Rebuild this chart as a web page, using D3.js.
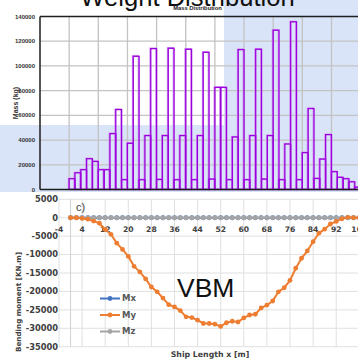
<!DOCTYPE html>
<html><head><meta charset="utf-8">
<script src="https://cdn.jsdelivr.net/npm/d3@7"></script>
<style>body{margin:0;background:#fff}svg{display:block}</style>
</head><body>
<svg id="c" width="358" height="359"></svg>
<script>
// ---- Top chart data (Mass Distribution) ----
const massTicks = [0, 20000, 40000, 60000, 80000, 100000, 120000, 140000];
const massValues = [8700, 13500, 16000, 24900, 22700, 16000, 16000, 45200, 64700, 7900,
  37400, 107800, 7900, 43600, 114000, 8100, 43600, 114300, 7900, 43600,
  113500, 7900, 43600, 111000, 8400, 82600, 82600, 7900, 42500, 113200,
  7900, 43600, 113500, 8400, 43600, 128900, 7900, 36800, 135700, 7900,
  29800, 65500, 8900, 24600, 44400, 14400, 9800, 8700, 6200, 1900];
const massFirstSlot = 5;
const massSlotCount = 55;

// ---- Bottom chart data (Bending moment) ----
const lengthStations = [0,2,4,6,8,10,12,14,16,18,20,22,24,26,28,30,32,34,36,38,40,42,44,46,48,50,
  52,54,56,58,60,62,64,66,68,70,72,74,76,78,80,82,84,86,88,90,92,94,96,98,100];
const myValues = [0,0,-200,-400,-900,-1500,-3200,-4500,-6900,-8600,-10500,-13200,-14700,-16600,-18800,-20100,
  -21800,-23600,-24200,-25200,-26900,-27100,-27800,-28700,-28700,-28900,-29500,-28500,-28100,-28300,
  -27200,-26400,-26200,-24500,-23700,-22600,-20100,-19000,-17000,-13700,-11000,-9000,-6500,-4200,
  -3100,-1700,-1000,-300,100,0,0];
const mxValues = [0,0,0,0,0,0,0,0,0,0,0,0,0,0,0,0,0,0,0,0,0,0,0,0,0,0,0,0,0,0,0,0,0,0,0,0,0,0,0,0,0,0,0,0,0,0,0,0,0,0,0];
const mzValues = [0,0,0,0,0,0,0,0,0,0,0,0,0,0,0,0,0,0,0,0,0,0,0,0,0,0,0,0,0,0,0,0,0,0,0,0,0,0,0,0,0,0,0,0,0,0,0,0,0,0,0];
const momentTicks = [5000, 0, -5000, -10000, -15000, -20000, -25000, -30000, -35000];
const lengthTicks = [-4, 4, 12, 20, 28, 36, 44, 52, 60, 68, 76, 84, 92, 100];
const seriesNames = ["Mx", "My", "Mz"];
const seriesColors = ["#4472C4", "#ED7D31", "#A5A5A5"];

const svg = d3.select("#c");

// ---------- TOP CHART ----------
const topG = svg.append("g");
topG.append("path")
  .attr("d", "M224,0 L358,0 L358,192 L0,192 L0,125 L224,125 Z")
  .attr("fill", "#d9e4f8");

const xT = d3.scaleLinear().domain([0, massSlotCount]).range([40, 40 + massSlotCount * 5.83]);
const yT = d3.scaleLinear().domain([0, 140000]).range([189.5, 16.5]);

topG.append("g").selectAll("line").data(massTicks.slice(1, -1)).join("line")
  .attr("x1", 40).attr("x2", 358).attr("y1", d => yT(d)).attr("y2", d => yT(d))
  .attr("stroke", "#c3c3c3").attr("stroke-width", 1.3);
topG.append("g").selectAll("line").data(d3.range(5, massSlotCount + 1, 5)).join("line")
  .attr("x1", d => xT(d)).attr("x2", d => xT(d)).attr("y1", yT(140000)).attr("y2", yT(0))
  .attr("stroke", "#c3c3c3").attr("stroke-width", 1.3);

const bars = massValues.map((v, i) => ({slot: massFirstSlot + i, v}));
topG.append("g").selectAll("rect").data(bars).join("rect")
  .attr("x", d => xT(d.slot) - 0.8).attr("y", d => yT(d.v) - 0.5)
  .attr("width", d => xT(d.slot + 1) - xT(d.slot)).attr("height", d => yT(0) - yT(d.v))
  .attr("fill", "none").attr("stroke", "#cf8df2").attr("stroke-width", 1.2);
topG.append("g").selectAll("rect").data(bars).join("rect")
  .attr("x", d => xT(d.slot)).attr("y", d => yT(d.v))
  .attr("width", d => xT(d.slot + 1) - xT(d.slot)).attr("height", d => yT(0) - yT(d.v))
  .attr("fill", "none").attr("stroke", "#9b00dc").attr("stroke-width", 1.3);

topG.append("line").attr("x1", 40).attr("x2", 358).attr("y1", yT(140000)).attr("y2", yT(140000))
  .attr("stroke", "#1e1e1e").attr("stroke-width", 1.5);
topG.append("line").attr("x1", 40).attr("x2", 40).attr("y1", yT(140000)).attr("y2", yT(0))
  .attr("stroke", "#1e1e1e").attr("stroke-width", 1.5);
topG.append("line").attr("x1", 40).attr("x2", 358).attr("y1", yT(0)).attr("y2", yT(0))
  .attr("stroke", "#1e1e1e").attr("stroke-width", 1.5);

topG.append("g").selectAll("text").data(massTicks).join("text")
  .attr("x", 35).attr("y", d => yT(d)).attr("dy", "0.35em")
  .attr("text-anchor", "end").attr("font-family", "Liberation Sans, Arial, sans-serif")
  .attr("font-size", 6).attr("font-weight", "bold").attr("fill", "#333")
  .text(d => d);

topG.append("text").attr("transform", "translate(18,103) rotate(-90)")
  .attr("text-anchor", "middle").attr("font-family", "Liberation Sans, Arial, sans-serif")
  .attr("font-size", 7).attr("font-weight", "bold").attr("fill", "#333").text("Mass (kg)");

topG.append("text").attr("x", 187.5).attr("y", 6).attr("text-anchor", "middle")
  .attr("font-family", "Liberation Sans, Arial, sans-serif").attr("font-size", 25.6)
  .attr("fill", "#111").text("Weight Distribution");
topG.append("text").attr("x", 197.5).attr("y", 9.5).attr("text-anchor", "middle")
  .attr("font-family", "Liberation Sans, Arial, sans-serif").attr("font-size", 5.8)
  .attr("font-weight", "bold").attr("fill", "#222").text("Mass Distribution");

// ---------- BOTTOM CHART ----------
const botG = svg.append("g");
botG.append("rect").attr("x", 0).attr("y", 192.5).attr("width", 358).attr("height", 167).attr("fill", "#fff");

const xB = d3.scaleLinear().domain([-4, 100]).range([59, 359.3]);
const yB = d3.scaleLinear().domain([-35000, 5000]).range([346.7, 199.3]);

botG.append("g").selectAll("line").data(momentTicks).join("line")
  .attr("x1", xB(-4)).attr("x2", xB(100)).attr("y1", d => yB(d)).attr("y2", d => yB(d))
  .attr("stroke", "#e0e0e0").attr("stroke-width", 1);
botG.append("g").selectAll("line").data(lengthTicks).join("line")
  .attr("x1", d => xB(d)).attr("x2", d => xB(d)).attr("y1", yB(5000)).attr("y2", yB(-35000))
  .attr("stroke", "#e0e0e0").attr("stroke-width", 1);
botG.append("line").attr("x1", xB(0)).attr("x2", xB(0)).attr("y1", yB(5000)).attr("y2", yB(-35000))
  .attr("stroke", "#d0d0d0").attr("stroke-width", 1);

botG.append("g").selectAll("text").data(momentTicks).join("text")
  .attr("x", 58).attr("y", d => yB(d)).attr("dy", "0.35em").attr("text-anchor", "end")
  .attr("font-family", "DejaVu Sans, sans-serif").attr("font-size", 8.3).attr("font-weight", "bold")
  .attr("fill", "#404040").text(d => d);
botG.append("g").selectAll("text").data(lengthTicks).join("text")
  .attr("x", d => xB(d)).attr("y", yB(0) + 14).attr("text-anchor", "middle")
  .attr("font-family", "DejaVu Sans, sans-serif").attr("font-size", 7.6).attr("font-weight", "bold")
  .attr("fill", "#404040").text(d => d);

const seriesData = [mxValues, myValues, mzValues];
const line = d3.line().x((d, i) => xB(lengthStations[i])).y(d => yB(d));
const drawOrder = [0, 2, 1];
drawOrder.forEach(si => {
  const g = botG.append("g");
  g.append("path").datum(seriesData[si]).attr("d", line).attr("fill", "none")
    .attr("stroke", seriesColors[si]).attr("stroke-width", 2);
  g.selectAll("circle").data(seriesData[si]).join("circle")
    .attr("cx", (d, i) => xB(lengthStations[i])).attr("cy", d => yB(d)).attr("r", 2.4)
    .attr("fill", seriesColors[si]);
});

const legY = [298.5, 315, 331.5];
seriesNames.forEach((n, i) => {
  const g = botG.append("g");
  g.append("line").attr("x1", 100).attr("x2", 120).attr("y1", legY[i]).attr("y2", legY[i])
    .attr("stroke", seriesColors[i]).attr("stroke-width", 2);
  g.append("circle").attr("cx", 110).attr("cy", legY[i]).attr("r", 2.4).attr("fill", seriesColors[i]);
  g.append("text").attr("x", 122).attr("y", legY[i]).attr("dy", "0.35em")
    .attr("font-family", "DejaVu Sans, sans-serif").attr("font-size", 8.5).attr("font-weight", "bold")
    .attr("fill", "#595959").text(n);
});

botG.append("text").attr("x", 76).attr("y", 211).attr("font-family", "Liberation Sans, Arial, sans-serif")
  .attr("font-size", 11).attr("fill", "#404040").text("c)");
botG.append("text").attr("x", 177).attr("y", 297).attr("font-family", "Liberation Sans, Arial, sans-serif")
  .attr("font-size", 26.5).attr("fill", "#111").text("VBM");

botG.append("text").attr("x", 210).attr("y", 357).attr("text-anchor", "middle")
  .attr("font-family", "DejaVu Sans, sans-serif").attr("font-size", 7.8).attr("font-weight", "bold")
  .attr("fill", "#404040").text("Ship Length x [m]");
botG.append("text").attr("transform", "translate(21,302) rotate(-90)").attr("text-anchor", "middle")
  .attr("font-family", "DejaVu Sans, sans-serif").attr("font-size", 7.2).attr("font-weight", "bold")
  .attr("fill", "#404040").text("Bending moment [KN.m]");
</script>
</body></html>
